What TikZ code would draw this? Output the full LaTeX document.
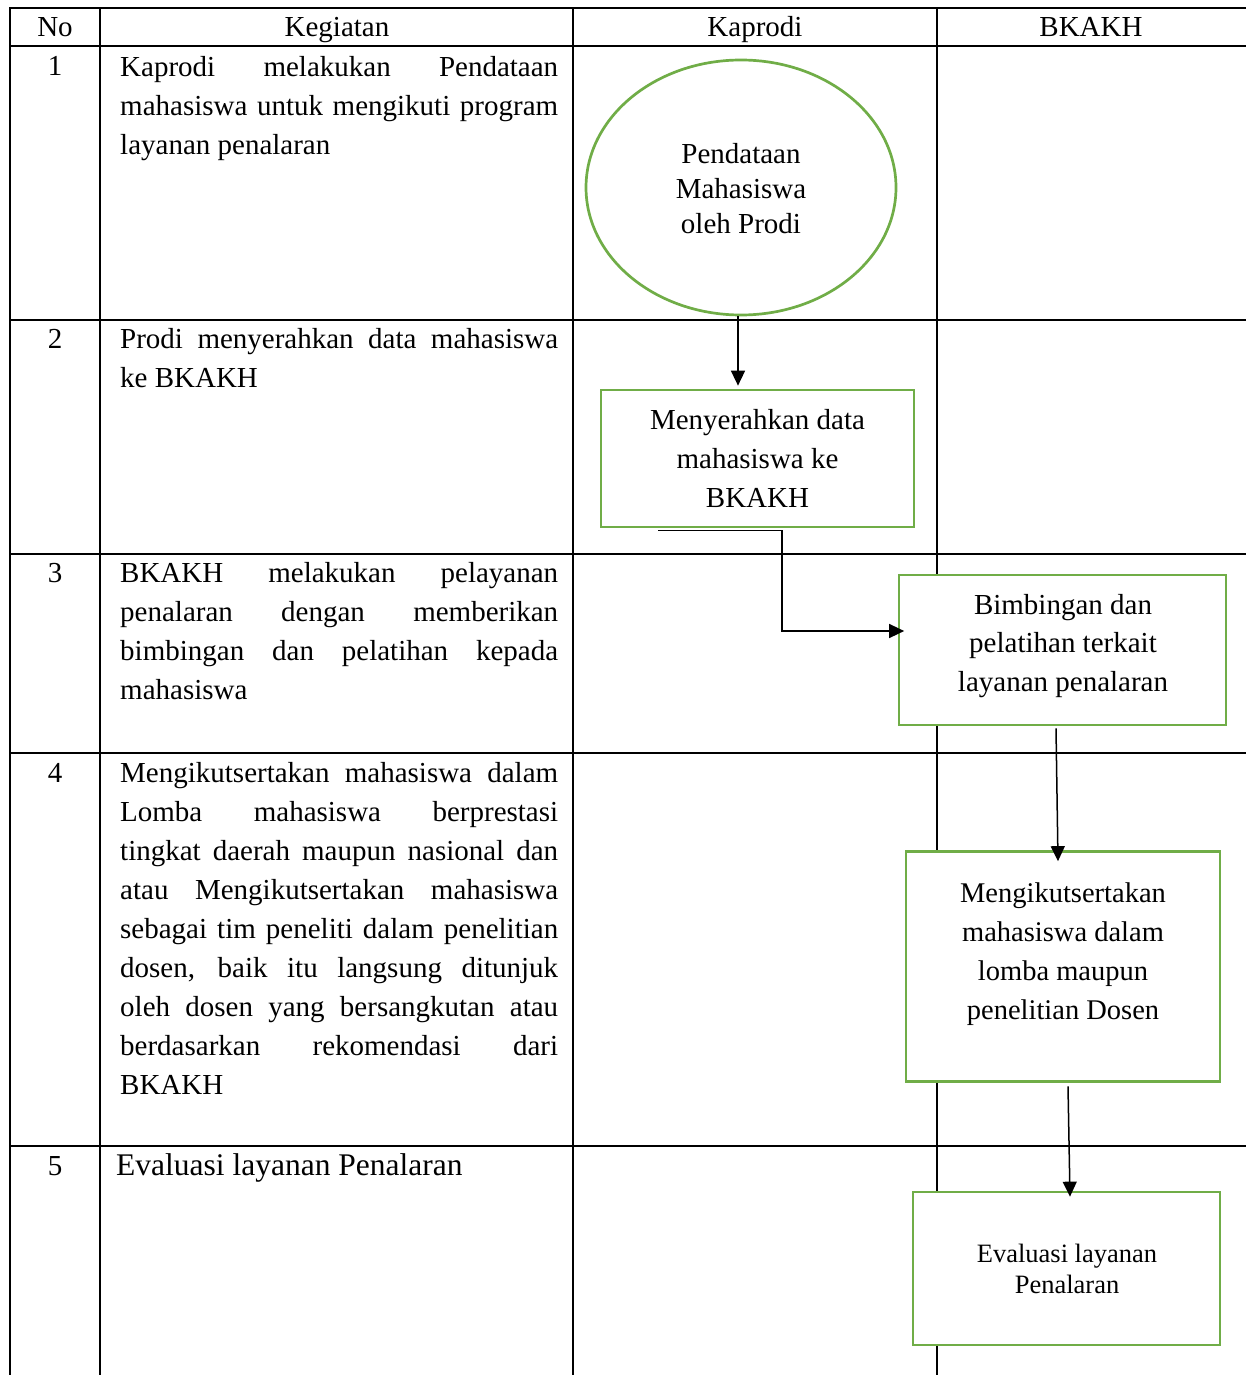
\documentclass[tikz,border=0pt]{standalone}
\usepackage{fontspec}
\setmainfont{Liberation Serif}
\usetikzlibrary{arrows.meta,shapes.geometric}
\definecolor{boxgreen}{HTML}{70AD47}
\newcommand\jline[1]{\makebox[438pt][s]{#1}}
\newcommand\colpar[3]{\parbox[t]{438pt}{\fontsize{#1}{#2}\selectfont #3}}
\newcommand\boxpar[3]{\parbox[t]{320pt}{\centering\fontsize{#1}{#2}\selectfont #3}}
\begin{document}
\begin{tikzpicture}[x=1pt,y=-1pt,
  grid/.style={line width=2.6pt},
  flowbox/.style={rectangle,draw=boxgreen,line width=2.7pt,fill=white,inner sep=0pt},
  flowell/.style={ellipse,draw=boxgreen,line width=2.7pt,fill=white,inner sep=0pt},
  arr/.style={line width=1.5pt,-{Triangle[length=15pt,width=14pt]}},
  cell/.style={inner sep=0pt,anchor=base west},
  hdr/.style={inner sep=0pt,anchor=base,font=\fontsize{29}{35}\selectfont},
  btext/.style={inner sep=0pt,anchor=base}]
\useasboundingbox (0,0) rectangle (1246,1375);
% table
\draw[grid,line join=miter] (10,1380) -- (10,8) -- (1250,8);
\foreach \yy in {46,320,554,753,1146} \draw[grid] (10,\yy) -- (1250,\yy);
\foreach \xx in {100,573,937} \draw[grid] (\xx,8) -- (\xx,1380);
% header
\node[hdr] (hno) at (55,36.5) {No};
\node[hdr] (hkeg) at (337,36.5) {Kegiatan};
\node[hdr] (hkap) at (755,36.5) {Kaprodi};
\node[hdr] (hbk) at (1091,36.5) {BKAKH};
% numbers
\node[hdr] (n1) at (55,76) {1};
\node[hdr] (n2) at (55,348.5) {2};
\node[hdr] (n3) at (55,582.5) {3};
\node[hdr] (n4) at (55,782) {4};
\node[hdr] (n5) at (55,1175) {5};
% activity texts
\node[cell] (k1) at (120,76.5) {\colpar{29}{39}{%
\jline{Kaprodi melakukan Pendataan}\\
\jline{mahasiswa untuk mengikuti program}\\
layanan penalaran}};
\node[cell] (k2) at (120,348.5) {\colpar{29}{39}{%
\jline{Prodi menyerahkan data mahasiswa}\\
ke BKAKH}};
\node[cell] (k3) at (120,582.5) {\colpar{29}{39}{%
\jline{BKAKH melakukan pelayanan}\\
\jline{penalaran dengan memberikan}\\
\jline{bimbingan dan pelatihan kepada}\\
mahasiswa}};
\node[cell] (k4) at (120,782) {\colpar{29}{39}{%
\jline{Mengikutsertakan mahasiswa dalam}\\
\jline{Lomba mahasiswa berprestasi}\\
\jline{tingkat daerah maupun nasional dan}\\
\jline{atau Mengikutsertakan mahasiswa}\\
\jline{sebagai tim peneliti dalam penelitian}\\
\jline{dosen, baik itu langsung ditunjuk}\\
\jline{oleh dosen yang bersangkutan atau}\\
\jline{berdasarkan rekomendasi dari}\\
BKAKH}};
\node[cell] (k5) at (116,1175.5) {\colpar{31.5}{38}{Evaluasi layanan Penalaran}};
% flow shapes
\node[flowell,minimum width=310pt,minimum height=255pt] (e1) at (741,187.5) {};
\node[flowbox,minimum width=313pt,minimum height=137pt] (b2) at (757.5,458.5) {};
\node[flowbox,minimum width=327pt,minimum height=150pt] (b3) at (1062.5,650) {};
\node[flowbox,minimum width=314pt,minimum height=230pt] (b4) at (1063,966.5) {};
\node[flowbox,minimum width=307pt,minimum height=153pt] (b5) at (1066.5,1268.5) {};
% flow texts
\node[btext] (t1) at (741,164) {\boxpar{29}{35}{Pendataan\\Mahasiswa\\oleh Prodi}};
\node[btext] (t2) at (757.5,429) {\boxpar{29}{39}{Menyerahkan data\\mahasiswa ke\\BKAKH}};
\node[btext] (t3) at (1063,614) {\boxpar{29}{38.5}{Bimbingan dan\\pelatihan terkait\\layanan penalaran}};
\node[btext] (t4) at (1063,902) {\boxpar{28.5}{39}{Mengikutsertakan\\mahasiswa dalam\\lomba maupun\\penelitian Dosen}};
\node[btext] (t5) at (1067,1262) {\boxpar{26.5}{31.5}{Evaluasi layanan\\Penalaran}};
% connectors
\draw[arr] ([xshift=-3pt]e1.south) -- ([xshift=-19.5pt,yshift=3pt]b2.north);
\draw[arr] ([xshift=-99.5pt,yshift=-2pt]b2.south) -- ++(124,0) |- ([xshift=6.5pt,yshift=19pt]b3.west);
\draw[arr] ([xshift=-6.5pt,yshift=-2pt]b3.south) -- ([xshift=-5pt,yshift=-11pt]b4.north);
\draw[arr] ([xshift=5pt,yshift=-3.5pt]b4.south) -- ([xshift=3.5pt,yshift=-6pt]b5.north);
\end{tikzpicture}
\end{document}
